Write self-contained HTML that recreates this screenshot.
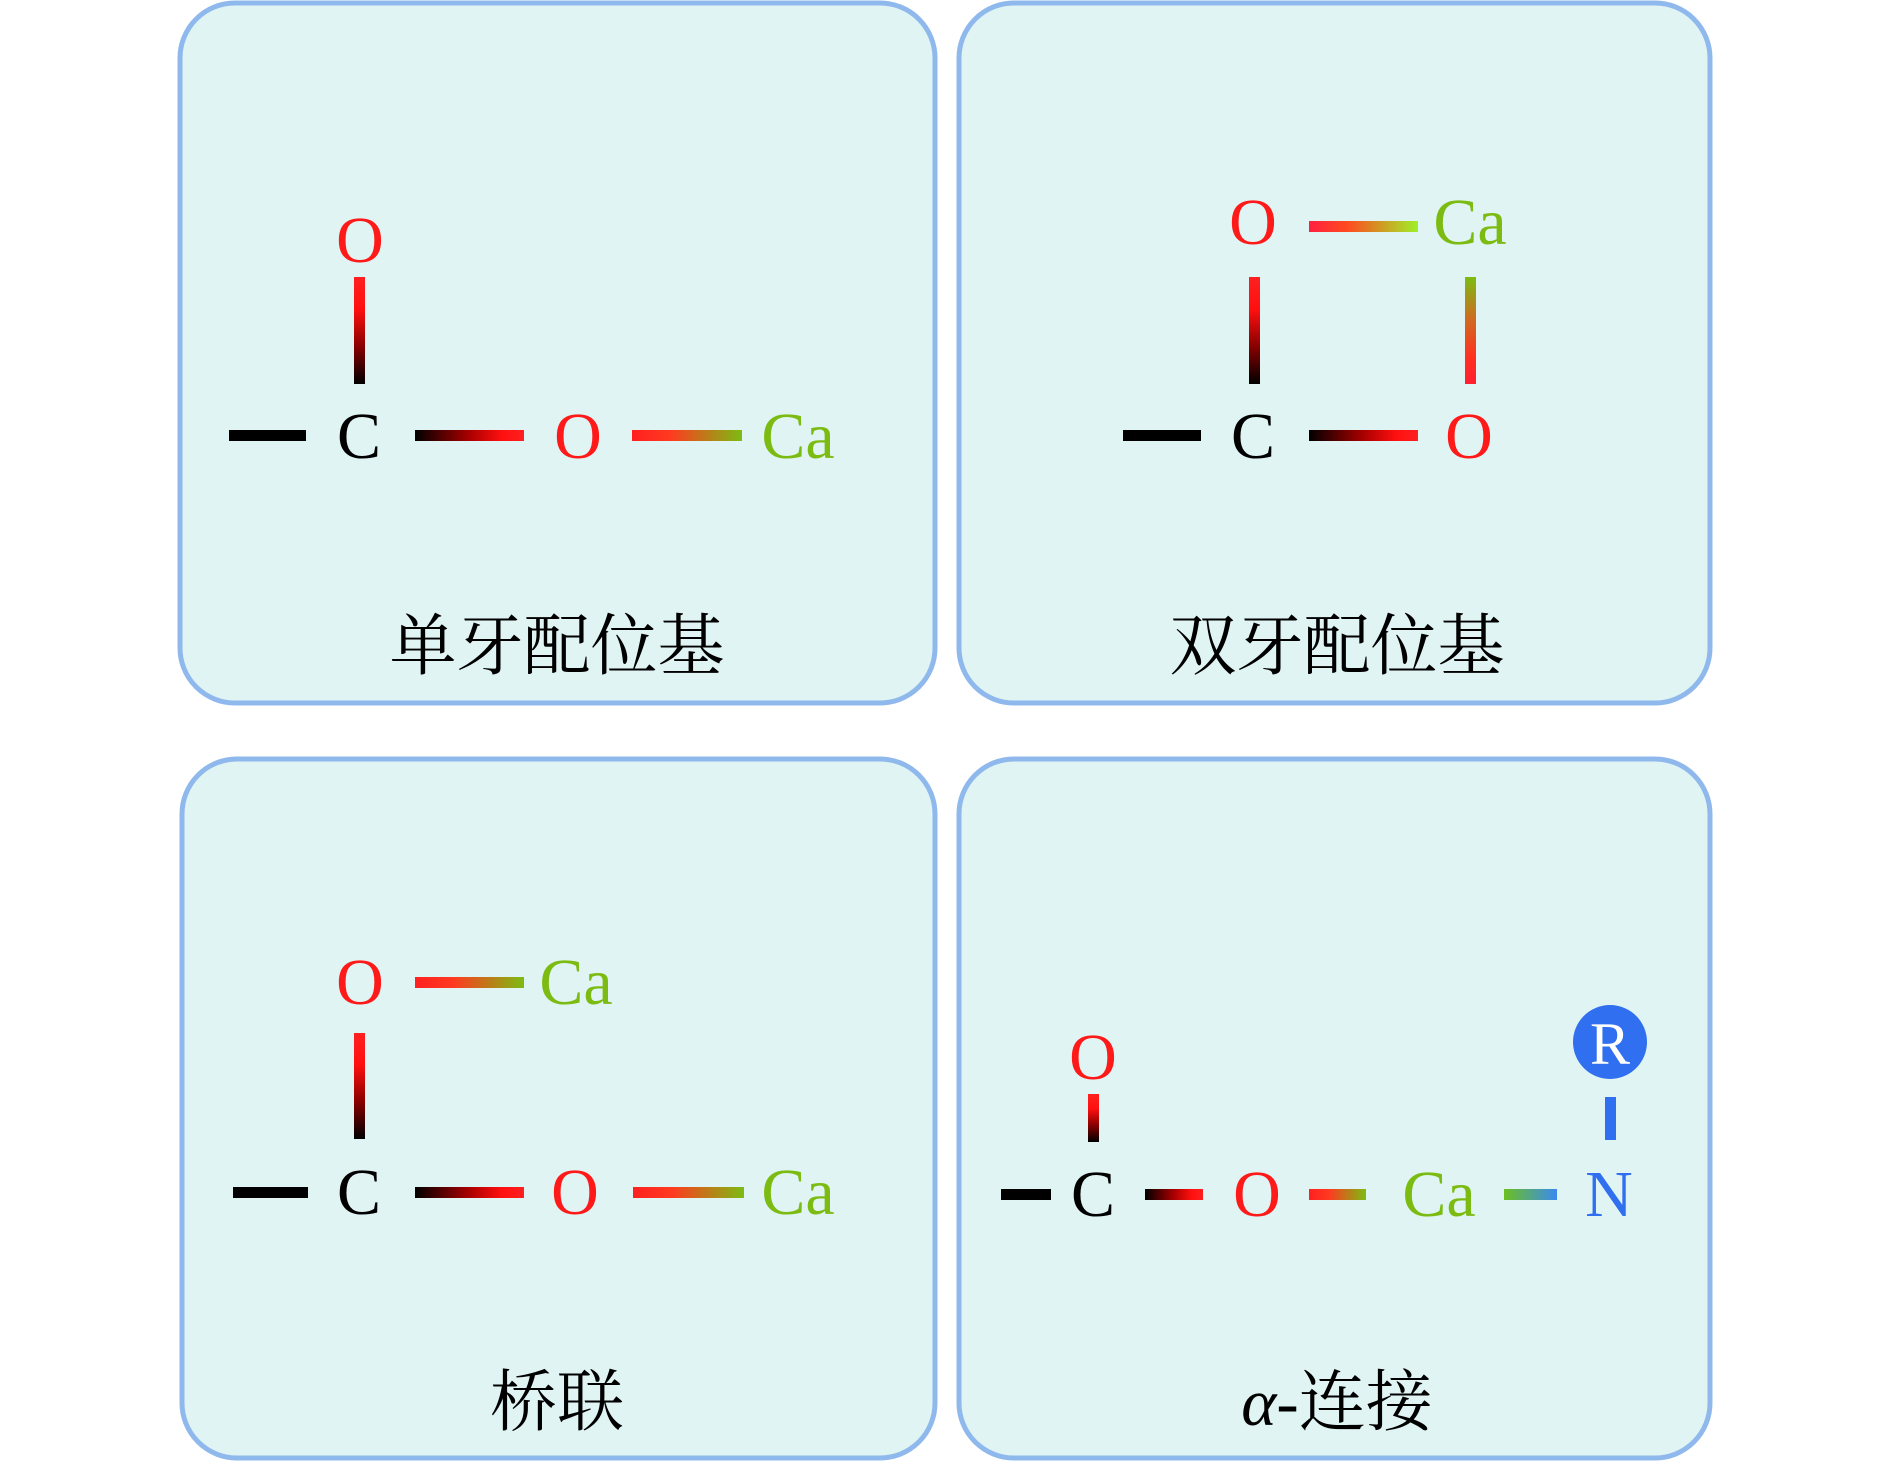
<!DOCTYPE html>
<html><head><meta charset="utf-8"><style>
html,body{margin:0;padding:0;background:#fff;}
svg{display:block;}
.t{font-family:"Liberation Serif","Times New Roman",serif;font-size:66px;text-anchor:middle;}
.r{fill:#ff1a1a}.k{fill:#000}.g{fill:#7cbc12}.b{fill:#2f6ff0}
.cj{font-family:"Liberation Serif","Noto Serif CJK SC",serif;font-size:67px;text-anchor:middle;fill:#000}
</style></head><body>
<svg width="1890" height="1465" viewBox="0 0 1890 1465" xmlns="http://www.w3.org/2000/svg">
<defs>
<linearGradient id="kr" x1="0" y1="0" x2="1" y2="0"><stop offset="0" stop-color="#000"/><stop offset="0.5" stop-color="#a00"/><stop offset="0.8" stop-color="#ff1010"/><stop offset="1" stop-color="#ff2020"/></linearGradient>
<linearGradient id="rg" x1="0" y1="0" x2="1" y2="0"><stop offset="0" stop-color="#ff2020"/><stop offset="0.35" stop-color="#ff3a20"/><stop offset="1" stop-color="#7cbc12"/></linearGradient>
<linearGradient id="rg2" x1="0" y1="0" x2="1" y2="0"><stop offset="0" stop-color="#ff2040"/><stop offset="0.35" stop-color="#ff4a20"/><stop offset="1" stop-color="#9ef028"/></linearGradient>
<linearGradient id="gb" x1="0" y1="0" x2="1" y2="0"><stop offset="0" stop-color="#6cc020"/><stop offset="1" stop-color="#3a8af0"/></linearGradient>
<linearGradient id="rkv" x1="0" y1="0" x2="0" y2="1"><stop offset="0" stop-color="#ff2020"/><stop offset="0.3" stop-color="#ff1010"/><stop offset="0.65" stop-color="#800"/><stop offset="1" stop-color="#000"/></linearGradient>
<linearGradient id="grv" x1="0" y1="0" x2="0" y2="1"><stop offset="0" stop-color="#7cbc12"/><stop offset="0.4" stop-color="#d06a20"/><stop offset="0.75" stop-color="#ff3020"/><stop offset="1" stop-color="#ff2030"/></linearGradient>
</defs>
<g fill="#e0f4f4" stroke="#8fb8ec" stroke-width="5">
<rect x="180" y="3" width="755" height="700" rx="55"/>
<rect x="959" y="3" width="751" height="700" rx="55"/>
<rect x="182" y="759" width="753" height="699" rx="55"/>
<rect x="959" y="759" width="751" height="699" rx="55"/>
</g>
<!-- TL -->
<rect x="229" y="430" width="77" height="11" fill="#000"/>
<rect x="415" y="430" width="109" height="11" fill="url(#kr)"/>
<rect x="632" y="430" width="110" height="11" fill="url(#rg)"/>
<rect x="354" y="277" width="11" height="107" fill="url(#rkv)"/>
<text class="t r" x="360" y="262">O</text>
<text class="t k" x="359" y="458">C</text>
<text class="t r" x="578" y="458">O</text>
<text class="t g" x="798" y="458">Ca</text>
<text class="cj" x="557" y="669">单牙配位基</text>
<!-- TR -->
<rect x="1309" y="221" width="109" height="11" fill="url(#rg2)"/>
<rect x="1249" y="277" width="11" height="107" fill="url(#rkv)"/>
<rect x="1465" y="277" width="11" height="107" fill="url(#grv)"/>
<rect x="1123" y="430" width="78" height="11" fill="#000"/>
<rect x="1309" y="430" width="109" height="11" fill="url(#kr)"/>
<text class="t r" x="1253" y="244">O</text>
<text class="t g" x="1470" y="244">Ca</text>
<text class="t k" x="1253" y="458">C</text>
<text class="t r" x="1469" y="458">O</text>
<text class="cj" x="1337" y="669">双牙配位基</text>
<!-- BL -->
<rect x="415" y="977" width="109" height="11" fill="url(#rg)"/>
<rect x="354" y="1033" width="11" height="106" fill="url(#rkv)"/>
<rect x="233" y="1187" width="75" height="11" fill="#000"/>
<rect x="415" y="1187" width="109" height="11" fill="url(#kr)"/>
<rect x="633" y="1187" width="111" height="11" fill="url(#rg)"/>
<text class="t r" x="360" y="1004">O</text>
<text class="t g" x="576" y="1004">Ca</text>
<text class="t k" x="359" y="1214">C</text>
<text class="t r" x="575" y="1214">O</text>
<text class="t g" x="798" y="1214">Ca</text>
<text class="cj" x="557" y="1425">桥联</text>
<!-- BR -->
<rect x="1001" y="1189" width="50" height="11" fill="#000"/>
<rect x="1145" y="1189" width="58" height="11" fill="url(#kr)"/>
<rect x="1309" y="1189" width="57" height="11" fill="url(#rg)"/>
<rect x="1504" y="1189" width="53" height="11" fill="url(#gb)"/>
<rect x="1088" y="1094" width="11" height="48" fill="url(#rkv)"/>
<rect x="1605" y="1097" width="11" height="43" fill="#2f6ff0"/>
<circle cx="1610" cy="1042" r="37" fill="#2f6ff0"/>
<text class="t" x="1610" y="1064" fill="#fff" style="font-size:60px">R</text>
<text class="t r" x="1093" y="1079">O</text>
<text class="t k" x="1093" y="1216">C</text>
<text class="t r" x="1257" y="1216">O</text>
<text class="t g" x="1439" y="1216">Ca</text>
<text class="t b" x="1609" y="1216">N</text>
<text class="cj" x="1337" y="1425"><tspan font-style="italic">α</tspan>-连接</text>
</svg>
</body></html>
